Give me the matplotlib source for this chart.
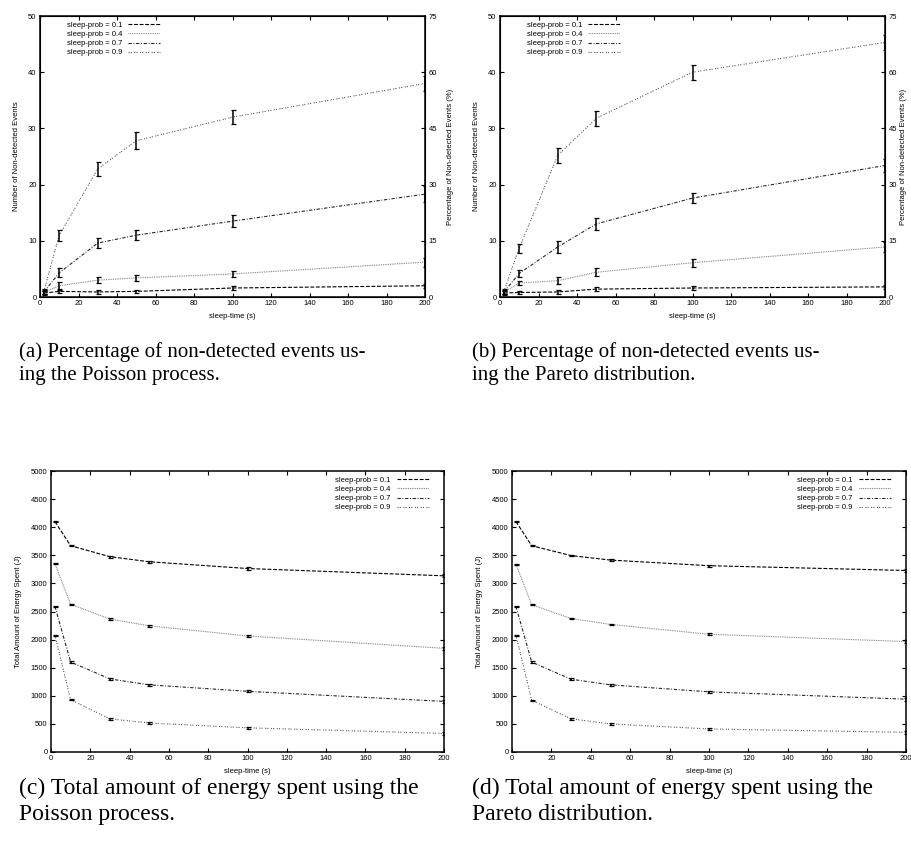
import numpy as np
import matplotlib
matplotlib.use("Agg")
import matplotlib.pyplot as plt

W, H = 911, 857

sleep_time = [2, 10, 30, 50, 100, 200]
probs = ["0.1", "0.4", "0.7", "0.9"]

# (a) Poisson, non-detected events
poi_events = [
    [0.7, 1.0, 0.9, 1.0, 1.6, 2.0],
    [0.8, 2.0, 3.0, 3.4, 4.1, 6.2],
    [0.9, 4.3, 9.6, 11.0, 13.5, 18.3],
    [1.0, 11.0, 22.8, 27.8, 32.0, 38.0],
]
poi_events_err = [
    [0.3, 0.3, 0.3, 0.3, 0.3, 0.4],
    [0.3, 0.6, 0.5, 0.6, 0.6, 0.8],
    [0.4, 0.8, 0.9, 0.9, 1.1, 1.4],
    [0.4, 1.0, 1.3, 1.5, 1.3, 1.4],
]
# (b) Pareto, non-detected events
par_events = [
    [0.7, 0.8, 0.9, 1.4, 1.6, 1.8],
    [0.8, 2.5, 2.9, 4.4, 6.1, 8.9],
    [0.9, 4.2, 8.9, 13.0, 17.6, 23.4],
    [1.0, 8.7, 25.2, 31.8, 40.0, 45.3],
]
par_events_err = [
    [0.3, 0.3, 0.3, 0.3, 0.4, 0.4],
    [0.3, 0.4, 0.6, 0.7, 0.7, 0.9],
    [0.3, 0.6, 1.0, 1.1, 0.9, 1.2],
    [0.4, 0.8, 1.3, 1.3, 1.3, 1.3],
]
# (c) Poisson, energy
poi_energy = [
    [4100, 3670, 3475, 3385, 3265, 3135],
    [3350, 2630, 2365, 2245, 2065, 1845],
    [2590, 1600, 1300, 1195, 1080, 900],
    [2080, 930, 590, 515, 430, 330],
]
# (d) Pareto, energy
par_energy = [
    [4100, 3670, 3495, 3415, 3315, 3230],
    [3340, 2620, 2375, 2270, 2095, 1965],
    [2590, 1600, 1295, 1195, 1070, 940],
    [2080, 920, 590, 500, 410, 350],
]
energy_err = [10, 12, 15, 15, 20, 25]

captions = [
    "(a) Percentage of non-detected events us-\ning the Poisson process.",
    "(b) Percentage of non-detected events us-\ning the Pareto distribution.",
    "(c) Total amount of energy spent using the\nPoisson process.",
    "(d) Total amount of energy spent using the\nPareto distribution.",
]

# gnuplot-ish line types
styles = [
    dict(color="black", dashes=(3.5, 1.5)),
    dict(color="0.5", dashes=(0.8, 0.8)),
    dict(color="0.15", dashes=(3, 1.5, 0.8, 1.5)),
    dict(color="0.35", dashes=(1, 1, 1, 2.2)),
]

plt.rcParams["font.family"] = ["Liberation Sans", "DejaVu Sans"]
FS = 5.5

fig = plt.figure(figsize=(W / 100, H / 100), dpi=100)


def box(x0, x1, y0, y1):
    return [x0 / W, 1 - y1 / H, (x1 - x0) / W, (y1 - y0) / H]


def base_axes(rect):
    ax = fig.add_axes(rect)
    ax.set_xlim(0, 200)
    ax.set_xticks(range(0, 201, 20))
    for s in ax.spines.values():
        s.set_linewidth(1.1)
    ax.tick_params(direction="in", length=3, width=0.8, labelsize=FS, pad=2.5,
                   top=True)
    ax.set_xlabel("sleep-time (s)", fontsize=FS, labelpad=4)
    return ax


def draw(ax, ys, errs):
    for i, p in enumerate(probs):
        ax.plot(sleep_time, ys[i], lw=0.8, label=f"sleep-prob = {p}", **styles[i])
        ax.errorbar(sleep_time, ys[i], yerr=errs[i], fmt="none", ecolor="black",
                    elinewidth=1.1, capsize=1.8, capthick=0.9)


def events_panel(rect, ys, errs, rpad):
    ax = base_axes(rect)
    draw(ax, ys, errs)
    ax.set_ylim(0, 50)
    ax.set_yticks(range(0, 51, 10))
    ax.set_ylabel("Number of Non-detected Events", fontsize=FS, labelpad=6)
    ax2 = ax.twinx()
    ax2.set_ylim(0, 75)
    ax2.set_yticks(range(0, 76, 15))
    ax2.tick_params(direction="in", length=3, width=0.8, labelsize=FS, pad=2.5)
    ax2.set_ylabel("Percentage of Non-detected Events (%)", fontsize=FS,
                   labelpad=rpad)
    ax.legend(loc="upper left", bbox_to_anchor=(0.055, 1.0), fontsize=FS,
              frameon=False, markerfirst=False, handlelength=4.2,
              labelspacing=0.25, borderaxespad=0.3, handletextpad=0.8)
    return ax


def energy_panel(rect, ys):
    ax = base_axes(rect)
    draw(ax, ys, [energy_err] * 4)
    ax.set_ylim(0, 5000)
    ax.set_yticks(range(0, 5001, 500))
    ax.tick_params(right=True)
    ax.set_ylabel("Total Amount of Energy Spent (J)", fontsize=FS, labelpad=6)
    ax.legend(loc="upper right", bbox_to_anchor=(0.975, 1.0), fontsize=FS,
              frameon=False, markerfirst=False, handlelength=4.2,
              labelspacing=0.25, borderaxespad=0.3, handletextpad=0.8)
    return ax


events_panel(box(40, 425, 16, 297), poi_events, poi_events_err, 7)
events_panel(box(500, 885, 16, 297), par_events, par_events_err, 2.5)
energy_panel(box(51, 444, 471, 752), poi_energy)
energy_panel(box(512, 906, 471, 752), par_energy)

cap_pos = [(19, 342, 15), (472, 342, 15), (19, 778, 17), (472, 778, 17)]
for (x, y, fs), text in zip(cap_pos, captions):
    fig.text(x / W, 1 - y / H, text, fontsize=fs, family="Liberation Serif",
             va="top", ha="left", linespacing=1.3)

fig.savefig("out.png", dpi=100)
